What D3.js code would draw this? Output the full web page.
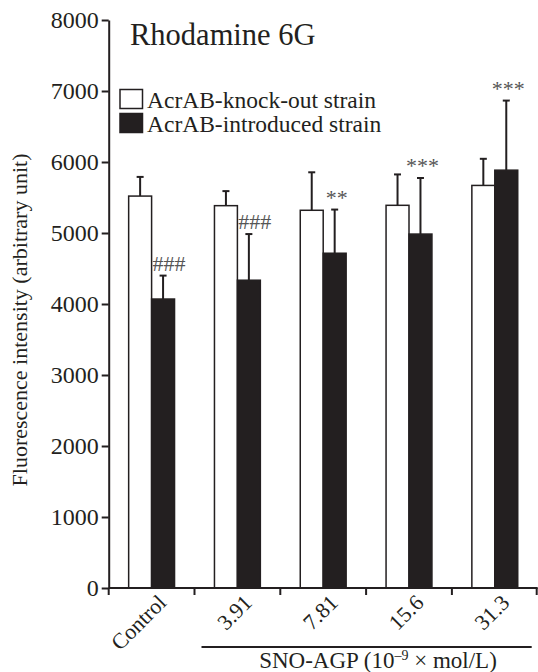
<!DOCTYPE html>
<html>
<head>
<meta charset="utf-8">
<script src="https://cdn.jsdelivr.net/npm/d3@7"></script>
<style>
  body { margin: 0; background: #fff; }
  svg { display: block; }
  svg text { font-family: "Liberation Serif", "DejaVu Serif", serif; }
</style>
</head>
<body>
<script>
// data
const categories = ["Control", "3.91", "7.81", "15.6", "31.3"];
const seriesNames = ["AcrAB-knock-out strain", "AcrAB-introduced strain"];
const knockOut = [5520, 5385, 5320, 5390, 5670];
const knockOutErr = [270, 205, 535, 435, 375];
const introduced = [4070, 4335, 4715, 4985, 5885];
const introducedErr = [330, 650, 615, 790, 980];
const marks = ["###", "###", "**", "***", "***"];
const yTicks = [0, 1000, 2000, 3000, 4000, 5000, 6000, 7000, 8000];

const width = 538, height = 672;
const ink = "#231f20";
const serif = "Liberation Serif";

const svg = d3.select("body").append("svg").attr("width", width).attr("height", height);

const x = d3.scaleBand().domain(categories).range([108.7, 537.7]).padding(0);
const sub = d3.scaleBand().domain([0, 1]).range([0, x.bandwidth()]).paddingInner(0).paddingOuter(0.87);
const y = d3.scaleLinear().domain([0, 8000]).range([588, 20]);

// y axis
const yAxis = svg.append("g")
  .attr("transform", `translate(${x.range()[0]},0)`)
  .call(d3.axisLeft(y).tickValues(yTicks).tickFormat(d3.format("d")).tickSize(7).tickSizeOuter(0).tickPadding(3));
yAxis.attr("font-family", serif);
yAxis.select(".domain").attr("stroke", ink).attr("stroke-width", 2);
yAxis.selectAll(".tick line").attr("stroke", ink).attr("stroke-width", 2);
yAxis.selectAll(".tick text").attr("fill", ink).attr("font-size", 24)
  .attr("font-family", serif);

svg.append("text")
  .attr("transform", `translate(27,320) rotate(-90)`)
  .attr("text-anchor", "middle")
  .attr("font-family", serif)
  .attr("font-size", 22)
  .attr("fill", ink)
  .text("Fluorescence intensity (arbitrary unit)");

// bars
const rows = categories.map((c, i) => [
  { c, k: 0, v: knockOut[i], e: knockOutErr[i] },
  { c, k: 1, v: introduced[i], e: introducedErr[i] },
]).flat();

// error bars (upper only) behind bars
const errG = svg.append("g").attr("stroke", ink).attr("stroke-width", 2);
rows.forEach(d => {
  const cx = x(d.c) + sub(d.k) + sub.bandwidth() / 2;
  errG.append("line").attr("x1", cx).attr("x2", cx).attr("y1", y(d.v)).attr("y2", y(d.v + d.e));
  errG.append("line").attr("x1", cx - 3.5).attr("x2", cx + 3.5).attr("y1", y(d.v + d.e)).attr("y2", y(d.v + d.e));
});

svg.append("g").selectAll("rect")
  .data(rows)
  .join("rect")
  .attr("x", d => x(d.c) + sub(d.k))
  .attr("y", d => y(d.v))
  .attr("width", sub.bandwidth())
  .attr("height", d => y(0) - y(d.v))
  .attr("fill", d => d.k === 0 ? "#fff" : ink)
  .attr("stroke", ink)
  .attr("stroke-width", 1.5);

// significance marks
svg.append("g").selectAll("text")
  .data(categories)
  .join("text")
  .attr("x", (c, i) => x(c) + sub(1) + sub.bandwidth() / 2 + (marks[i] === "###" ? 6 : 2))
  .attr("y", (c, i) => y(introduced[i] + introducedErr[i]) - 5)
  .attr("text-anchor", "middle")
  .attr("font-family", serif)
  .attr("font-size", 22)
  .attr("fill", "#555")
  .text((c, i) => marks[i]);

// x axis
svg.append("line")
  .attr("x1", x.range()[0]).attr("x2", x.range()[1])
  .attr("y1", y(0)).attr("y2", y(0))
  .attr("stroke", ink).attr("stroke-width", 2);
const edges = categories.map(c => x(c)).concat([x.range()[1] - 1]);
svg.append("g").selectAll("line")
  .data(edges)
  .join("line")
  .attr("x1", d => d).attr("x2", d => d)
  .attr("y1", y(0)).attr("y2", y(0) + 7)
  .attr("stroke", ink).attr("stroke-width", 2);

svg.append("g").selectAll("text")
  .data(categories)
  .join("text")
  .attr("transform", c => `translate(${x(c) + x.bandwidth() / 2 + 16},${y(0) + 16}) rotate(-45)`)
  .attr("text-anchor", "end")
  .attr("font-family", serif)
  .attr("font-size", 22)
  .attr("fill", ink)
  .text(c => c);

// bracket under the SNO-AGP doses
svg.append("line")
  .attr("x1", x("3.91") + 7).attr("x2", x.range()[1] - 6)
  .attr("y1", 647).attr("y2", 647)
  .attr("stroke", ink).attr("stroke-width", 2);

const xt = svg.append("text")
  .attr("x", 378).attr("y", 668)
  .attr("text-anchor", "middle")
  .attr("font-family", serif)
  .attr("font-size", 23)
  .attr("fill", ink);
xt.append("tspan").text("SNO-AGP (10");
xt.append("tspan").attr("font-size", 14).attr("dy", -8).text("\u20139");
xt.append("tspan").attr("dy", 8).text(" \u00d7  mol/L)");

// title
svg.append("text")
  .attr("x", 130).attr("y", 45)
  .attr("font-family", serif)
  .attr("font-size", 30.5)
  .attr("fill", ink)
  .text("Rhodamine 6G");

// legend
const legend = svg.append("g");
seriesNames.forEach((name, i) => {
  legend.append("rect")
    .attr("x", 120).attr("y", 89.5 + i * 24)
    .attr("width", 22.5).attr("height", 19)
    .attr("fill", i === 0 ? "#fff" : ink)
    .attr("stroke", ink).attr("stroke-width", 1.5);
  legend.append("text")
    .attr("x", 147).attr("y", 107.5 + i * 24)
    .attr("font-family", serif)
    .attr("font-size", 23.5)
    .attr("fill", ink)
    .text(name);
});
</script>
</body>
</html>
